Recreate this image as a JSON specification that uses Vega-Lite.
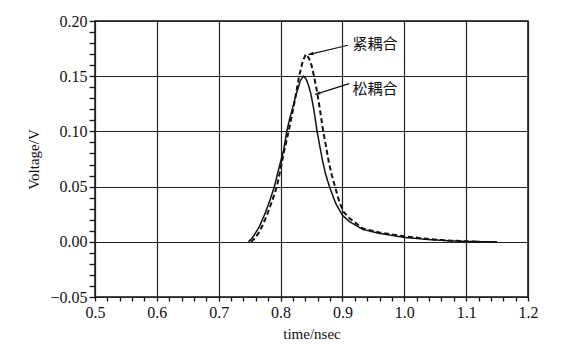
{
  "$schema": "https://vega.github.io/schema/vega-lite/v6.json",
  "width": 433,
  "height": 276,
  "autosize": "none",
  "padding": {"left": 95, "top": 21, "right": 39, "bottom": 55},
  "background": "white",
  "config": {
    "view": {"stroke": "#111", "strokeWidth": 1.5},
    "font": "Liberation Serif"
  },
  "datasets": {
    "curves": [
      {"t": 0.748, "v": 0, "s": "松耦合"},
      {"t": 0.755, "v": 0.004, "s": "松耦合"},
      {"t": 0.759, "v": 0.0076, "s": "松耦合"},
      {"t": 0.765, "v": 0.013, "s": "松耦合"},
      {"t": 0.775, "v": 0.0257, "s": "松耦合"},
      {"t": 0.783, "v": 0.038, "s": "松耦合"},
      {"t": 0.790, "v": 0.05, "s": "松耦合"},
      {"t": 0.797, "v": 0.066, "s": "松耦合"},
      {"t": 0.805, "v": 0.083, "s": "松耦合"},
      {"t": 0.810, "v": 0.10, "s": "松耦合"},
      {"t": 0.815, "v": 0.112, "s": "松耦合"},
      {"t": 0.820, "v": 0.1223, "s": "松耦合"},
      {"t": 0.826, "v": 0.135, "s": "松耦合"},
      {"t": 0.832, "v": 0.146, "s": "松耦合"},
      {"t": 0.8367, "v": 0.150, "s": "松耦合"},
      {"t": 0.841, "v": 0.148, "s": "松耦合"},
      {"t": 0.845, "v": 0.142, "s": "松耦合"},
      {"t": 0.849, "v": 0.134, "s": "松耦合"},
      {"t": 0.854, "v": 0.119, "s": "松耦合"},
      {"t": 0.859, "v": 0.10, "s": "松耦合"},
      {"t": 0.863, "v": 0.088, "s": "松耦合"},
      {"t": 0.868, "v": 0.073, "s": "松耦合"},
      {"t": 0.873, "v": 0.061, "s": "松耦合"},
      {"t": 0.879, "v": 0.05, "s": "松耦合"},
      {"t": 0.889, "v": 0.035, "s": "松耦合"},
      {"t": 0.900, "v": 0.024, "s": "松耦合"},
      {"t": 0.912, "v": 0.018, "s": "松耦合"},
      {"t": 0.933, "v": 0.0112, "s": "松耦合"},
      {"t": 0.960, "v": 0.0076, "s": "松耦合"},
      {"t": 1.000, "v": 0.004, "s": "松耦合"},
      {"t": 1.040, "v": 0.002, "s": "松耦合"},
      {"t": 1.070, "v": 0.001, "s": "松耦合"},
      {"t": 1.100, "v": 0.0003, "s": "松耦合"},
      {"t": 1.150, "v": 0, "s": "松耦合"},
      {"t": 0.752, "v": 0, "s": "紧耦合"},
      {"t": 0.758, "v": 0.003, "s": "紧耦合"},
      {"t": 0.764, "v": 0.0076, "s": "紧耦合"},
      {"t": 0.771, "v": 0.015, "s": "紧耦合"},
      {"t": 0.779, "v": 0.0257, "s": "紧耦合"},
      {"t": 0.787, "v": 0.038, "s": "紧耦合"},
      {"t": 0.794, "v": 0.05, "s": "紧耦合"},
      {"t": 0.800, "v": 0.066, "s": "紧耦合"},
      {"t": 0.806, "v": 0.083, "s": "紧耦合"},
      {"t": 0.813, "v": 0.10, "s": "紧耦合"},
      {"t": 0.821, "v": 0.122, "s": "紧耦合"},
      {"t": 0.830, "v": 0.150, "s": "紧耦合"},
      {"t": 0.836, "v": 0.164, "s": "紧耦合"},
      {"t": 0.841, "v": 0.170, "s": "紧耦合"},
      {"t": 0.846, "v": 0.166, "s": "紧耦合"},
      {"t": 0.850, "v": 0.160, "s": "紧耦合"},
      {"t": 0.854, "v": 0.150, "s": "紧耦合"},
      {"t": 0.859, "v": 0.136, "s": "紧耦合"},
      {"t": 0.863, "v": 0.122, "s": "紧耦合"},
      {"t": 0.869, "v": 0.10, "s": "紧耦合"},
      {"t": 0.873, "v": 0.088, "s": "紧耦合"},
      {"t": 0.878, "v": 0.072, "s": "紧耦合"},
      {"t": 0.883, "v": 0.060, "s": "紧耦合"},
      {"t": 0.888, "v": 0.05, "s": "紧耦合"},
      {"t": 0.895, "v": 0.036, "s": "紧耦合"},
      {"t": 0.902, "v": 0.027, "s": "紧耦合"},
      {"t": 0.912, "v": 0.021, "s": "紧耦合"},
      {"t": 0.933, "v": 0.012, "s": "紧耦合"},
      {"t": 0.960, "v": 0.0085, "s": "紧耦合"},
      {"t": 1.000, "v": 0.005, "s": "紧耦合"},
      {"t": 1.040, "v": 0.0025, "s": "紧耦合"},
      {"t": 1.070, "v": 0.0012, "s": "紧耦合"},
      {"t": 1.100, "v": 0.0004, "s": "紧耦合"},
      {"t": 1.120, "v": 0, "s": "紧耦合"}
    ],
    "labels": [
      {"lx": 0.9526, "ly": 0.1795, "label": "紧耦合", "x1": 0.909, "y1": 0.178, "x2": 0.845, "y2": 0.1696, "ang": 257},
      {"lx": 0.9526, "ly": 0.1388, "label": "松耦合", "x1": 0.911, "y1": 0.1433, "x2": 0.856, "y2": 0.1336, "ang": 253}
    ]
  },
  "layer": [
    {
      "data": {"name": "curves"},
      "mark": {"type": "line", "color": "#111", "clip": true},
      "encoding": {
        "x": {
          "field": "t", "type": "quantitative",
          "scale": {"domain": [0.5, 1.2], "nice": false, "zero": false},
          "axis": {
            "values": [0.5,0.52,0.54,0.56,0.58,0.6,0.62,0.64,0.66,0.68,0.7,0.72,0.74,0.76,0.78,0.8,0.82,0.84,0.86,0.88,0.9,0.92,0.94,0.96,0.98,1.0,1.02,1.04,1.06,1.08,1.1,1.12,1.14,1.16,1.18,1.2],
            "tickCount": 200,
            "labelExpr": "abs(datum.value*10 - round(datum.value*10)) < 0.01 ? format(datum.value, '.1f') : ''",
            "orient": "bottom",
            "title": "time/nsec",
            "titleFont": "Liberation Serif", "titleFontSize": 15, "titleFontWeight": "normal", "titleColor": "#111",
            "titlePadding": 6,
            "labelFont": "Liberation Serif", "labelFontSize": 16, "labelColor": "#111",
            "labelPadding": 3,
            "labelOverlap": false,
            "labelFlush": false,
            "domain": false,
            "tickSize": 4, "tickColor": "#111", "tickWidth": 1.3,
            "grid": true, "gridColor": "#222", "gridWidth": 1.2,
            "gridOpacity": {"condition": {"test": "abs(datum.value*10 - round(datum.value*10)) < 0.01", "value": 1}, "value": 0},
            "encode": {"ticks": {"update": {"y2": {"signal": "abs(datum.value*10 - round(datum.value*10)) < 0.01 ? 4 : -5"}}}}
          }
        },
        "y": {
          "field": "v", "type": "quantitative",
          "scale": {"domain": [-0.05, 0.2], "nice": false, "zero": false},
          "axis": {
            "values": [-0.05,-0.04,-0.03,-0.02,-0.01,0,0.01,0.02,0.03,0.04,0.05,0.06,0.07,0.08,0.09,0.1,0.11,0.12,0.13,0.14,0.15,0.16,0.17,0.18,0.19,0.2],
            "tickCount": 200,
            "labelExpr": "abs(datum.value*20 - round(datum.value*20)) < 0.01 ? format(datum.value, '.2f') : ''",
            "orient": "left",
            "title": "Voltage/V",
            "titleFont": "Liberation Serif", "titleFontSize": 15, "titleFontWeight": "normal", "titleColor": "#111",
            "titlePadding": 8,
            "labelFont": "Liberation Serif", "labelFontSize": 16, "labelColor": "#111",
            "labelPadding": 2,
            "labelOverlap": false,
            "labelFlush": false,
            "domain": false,
            "tickSize": 6, "tickColor": "#111", "tickWidth": 1.3,
            "grid": true, "gridColor": "#222", "gridWidth": 1.2,
            "gridOpacity": {"condition": {"test": "abs(datum.value*20 - round(datum.value*20)) < 0.01", "value": 1}, "value": 0},
            "encode": {"ticks": {"update": {"x2": {"signal": "abs(datum.value*20 - round(datum.value*20)) < 0.01 ? -6 : 5"}}}}
          }
        },
        "detail": {"field": "s"},
        "strokeDash": {
          "field": "s", "type": "nominal",
          "scale": {"domain": ["松耦合", "紧耦合"], "range": [[1, 0], [5, 3]]},
          "legend": null
        },
        "strokeWidth": {
          "field": "s", "type": "nominal",
          "scale": {"domain": ["松耦合", "紧耦合"], "range": [1.5, 2]},
          "legend": null
        }
      }
    },
    {
      "data": {"name": "labels"},
      "mark": {"type": "rule", "color": "#111", "strokeWidth": 1.2},
      "encoding": {
        "x": {"field": "x1", "type": "quantitative"},
        "y": {"field": "y1", "type": "quantitative"},
        "x2": {"field": "x2"},
        "y2": {"field": "y2"}
      }
    },
    {
      "data": {"name": "labels"},
      "mark": {"type": "point", "shape": "M0,0 L-0.45,1.3 L0.45,1.3 Z", "filled": true, "color": "#111", "size": 60, "opacity": 1},
      "encoding": {
        "x": {"field": "x2", "type": "quantitative"},
        "y": {"field": "y2", "type": "quantitative"},
        "angle": {"field": "ang", "type": "quantitative", "scale": null}
      }
    },
    {
      "data": {"name": "labels"},
      "mark": {"type": "text", "font": "Noto Sans CJK SC", "fontSize": 15, "color": "#111", "align": "center", "baseline": "middle"},
      "encoding": {
        "x": {"field": "lx", "type": "quantitative"},
        "y": {"field": "ly", "type": "quantitative"},
        "text": {"field": "label"}
      }
    }
  ]
}
